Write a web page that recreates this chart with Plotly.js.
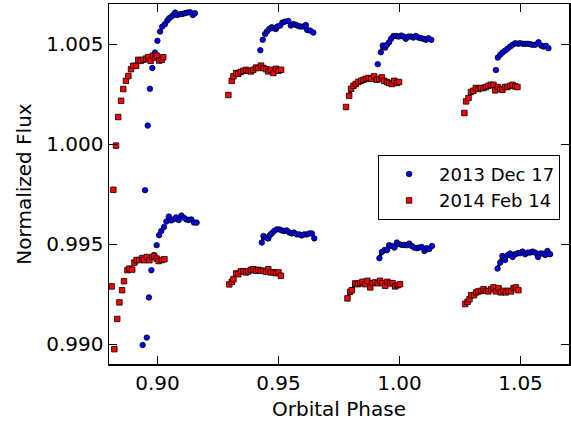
<!DOCTYPE html>
<html>
<head>
<meta charset="utf-8">
<script src="https://cdn.plot.ly/plotly-3.0.1.min.js"></script>
<style>html,body{margin:0;padding:0;background:#fff;}#chart{width:571px;height:421px;}</style>
</head>
<body>
<div id="chart"></div>
<script>
// ---- 2013 Dec 17 (blue), upper set, four visits ----
const decTopPhase = [
  [0.8949,0.8960,0.8969,0.8979,0.8990,0.9000,0.9011,0.9020,0.9031,0.9041,0.9049,0.9059,0.9066,0.9073,0.9082,0.9093,0.9103,0.9114,0.9124,0.9135,0.9146,0.9155],
  [0.9425,0.9435,0.9445,0.9452,0.9462,0.9472,0.9479,0.9489,0.9495,0.9507,0.9516,0.9527,0.9541,0.9551,0.9562,0.9573,0.9582,0.9592,0.9603,0.9613,0.9619,0.9631,0.9644],
  [0.9910,0.9923,0.9931,0.9941,0.9948,0.9957,0.9965,0.9975,0.9986,0.9996,1.0007,1.0016,1.0026,1.0037,1.0048,1.0057,1.0067,1.0078,1.0089,1.0099,1.0109,1.0119,1.0131],
  [1.0398,1.0406,1.0416,1.0425,1.0436,1.0446,1.0457,1.0467,1.0478,1.0489,1.0498,1.0510,1.0519,1.0530,1.0540,1.0549,1.0560,1.0574,1.0585,1.0595,1.0605,1.0615]
];
const decTopFlux = [
  [0.99769,1.00092,1.00276,1.00380,1.00457,1.00516,1.00562,1.00587,1.00599,1.00617,1.00629,1.00637,1.00645,1.00657,1.00645,1.00649,1.00650,1.00654,1.00657,1.00659,1.00645,1.00654],
  [1.00469,1.00521,1.00550,1.00562,1.00575,1.00584,1.00579,1.00575,1.00587,1.00592,1.00607,1.00612,1.00615,1.00592,1.00600,1.00595,1.00590,1.00587,1.00587,1.00595,1.00570,1.00567,1.00557],
  [1.00399,1.00459,1.00492,1.00482,1.00496,1.00509,1.00526,1.00540,1.00540,1.00537,1.00542,1.00537,1.00526,1.00537,1.00537,1.00532,1.00540,1.00532,1.00529,1.00526,1.00521,1.00529,1.00521],
  [1.00370,1.00432,1.00446,1.00457,1.00467,1.00476,1.00487,1.00496,1.00504,1.00501,1.00504,1.00501,1.00501,1.00501,1.00499,1.00496,1.00496,1.00509,1.00492,1.00487,1.00491,1.00479]
];
// ---- 2013 Dec 17 (blue), lower set ----
const decBotPhase = [
  [0.8939,0.8956,0.8965,0.8975,0.8986,0.8997,0.9007,0.9016,0.9027,0.9037,0.9047,0.9056,0.9066,0.9077,0.9088,0.9099,0.9109,0.9119,0.9129,0.9140,0.9151,0.9162],
  [0.9431,0.9438,0.9448,0.9458,0.9465,0.9472,0.9482,0.9493,0.9504,0.9514,0.9523,0.9534,0.9545,0.9555,0.9564,0.9576,0.9586,0.9596,0.9606,0.9617,0.9628,0.9638,0.9648],
  [0.9917,0.9927,0.9938,0.9948,0.9957,0.9968,0.9979,0.9989,0.9998,1.0010,1.0019,1.0030,1.0040,1.0051,1.0060,1.0072,1.0081,1.0092,1.0103,1.0113,1.0122,1.0134],
  [1.0405,1.0416,1.0425,1.0436,1.0446,1.0457,1.0467,1.0478,1.0489,1.0498,1.0508,1.0519,1.0530,1.0540,1.0549,1.0560,1.0572,1.0581,1.0591,1.0602,1.0611,1.0622]
];
const decBotFlux = [
  [0.98995,0.99032,0.99233,0.99369,0.99444,0.99494,0.99544,0.99565,0.99585,0.99612,0.99637,0.99618,0.99623,0.99633,0.99620,0.99642,0.99632,0.99623,0.99620,0.99623,0.99607,0.99607],
  [0.99507,0.99540,0.99532,0.99527,0.99545,0.99553,0.99565,0.99573,0.99573,0.99568,0.99565,0.99568,0.99557,0.99553,0.99557,0.99548,0.99548,0.99543,0.99548,0.99548,0.99553,0.99553,0.99528],
  [0.99429,0.99460,0.99470,0.99469,0.99494,0.99490,0.99482,0.99507,0.99499,0.99495,0.99495,0.99494,0.99502,0.99490,0.99482,0.99479,0.99482,0.99485,0.99465,0.99479,0.99474,0.99490],
  [0.99377,0.99407,0.99440,0.99420,0.99444,0.99452,0.99435,0.99449,0.99454,0.99454,0.99462,0.99449,0.99457,0.99457,0.99462,0.99457,0.99435,0.99452,0.99452,0.99445,0.99465,0.99449]
];
// ---- 2014 Feb 14 (red), upper set ----
const febTopPhase = [
  [0.8818,0.8829,0.8838,0.8850,0.8859,0.8870,0.8880,0.8891,0.8900,0.8912,0.8921,0.8931,0.8942,0.8953,0.8962,0.8972,0.8981,0.8990,0.8997,0.9007,0.9018,0.9024],
  [0.9293,0.9307,0.9314,0.9325,0.9334,0.9344,0.9355,0.9366,0.9376,0.9386,0.9396,0.9407,0.9417,0.9428,0.9438,0.9449,0.9458,0.9468,0.9479,0.9490,0.9500,0.9511],
  [0.9779,0.9792,0.9800,0.9810,0.9819,0.9830,0.9841,0.9851,0.9861,0.9872,0.9883,0.9895,0.9906,0.9916,0.9927,0.9936,0.9948,0.9957,0.9968,0.9978,0.9989,0.9998],
  [1.0268,1.0275,1.0285,1.0295,1.0305,1.0315,1.0326,1.0336,1.0347,1.0357,1.0367,1.0377,1.0388,1.0395,1.0406,1.0416,1.0425,1.0436,1.0446,1.0457,1.0467,1.0478,1.0487]
];
const febTopFlux = [
  [0.99771,0.99992,1.00135,1.00216,1.00275,1.00316,1.00340,1.00374,1.00391,1.00391,1.00421,1.00416,1.00421,1.00427,1.00434,1.00416,1.00441,1.00432,1.00441,1.00417,1.00421,1.00434],
  [1.00245,1.00316,1.00338,1.00355,1.00351,1.00360,1.00366,1.00371,1.00366,1.00363,1.00371,1.00382,1.00380,1.00392,1.00380,1.00374,1.00363,1.00371,1.00355,1.00376,1.00366,1.00371],
  [1.00185,1.00241,1.00276,1.00291,1.00300,1.00310,1.00316,1.00321,1.00326,1.00330,1.00326,1.00338,1.00321,1.00326,1.00333,1.00316,1.00310,1.00305,1.00300,1.00316,1.00305,1.00310],
  [1.00155,1.00213,1.00230,1.00260,1.00266,1.00280,1.00275,1.00280,1.00280,1.00285,1.00291,1.00296,1.00296,1.00268,1.00285,1.00275,1.00271,1.00285,1.00285,1.00291,1.00296,1.00288,1.00285]
];
// ---- 2014 Feb 14 (red), lower set ----
const febBotPhase = [
  [0.8811,0.8822,0.8834,0.8843,0.8854,0.8862,0.8876,0.8884,0.8896,0.8905,0.8914,0.8925,0.8938,0.8946,0.8956,0.8967,0.8979,0.8987,0.8997,0.9005,0.9018,0.9029],
  [0.9297,0.9307,0.9314,0.9325,0.9334,0.9344,0.9355,0.9366,0.9376,0.9386,0.9396,0.9407,0.9417,0.9427,0.9438,0.9449,0.9458,0.9468,0.9479,0.9490,0.9500,0.9510],
  [0.9785,0.9796,0.9803,0.9817,0.9828,0.9837,0.9847,0.9858,0.9867,0.9879,0.9888,0.9899,0.9910,0.9920,0.9929,0.9941,0.9950,0.9961,0.9971,0.9982,0.9993,1.0002],
  [1.0271,1.0281,1.0289,1.0296,1.0308,1.0317,1.0326,1.0337,1.0347,1.0357,1.0367,1.0379,1.0388,1.0398,1.0409,1.0419,1.0429,1.0439,1.0450,1.0461,1.0471,1.0481,1.0491]
];
const febBotFlux = [
  [0.99288,0.98974,0.99125,0.99208,0.99269,0.99314,0.99369,0.99377,0.99372,0.99407,0.99420,0.99420,0.99430,0.99419,0.99435,0.99419,0.99435,0.99440,0.99427,0.99415,0.99420,0.99424],
  [0.99298,0.99311,0.99324,0.99353,0.99349,0.99363,0.99364,0.99358,0.99363,0.99371,0.99374,0.99366,0.99371,0.99366,0.99366,0.99361,0.99374,0.99358,0.99358,0.99354,0.99358,0.99341],
  [0.99228,0.99261,0.99269,0.99303,0.99299,0.99304,0.99311,0.99299,0.99316,0.99283,0.99304,0.99308,0.99304,0.99316,0.99304,0.99291,0.99311,0.99303,0.99304,0.99288,0.99294,0.99299],
  [0.99200,0.99211,0.99224,0.99244,0.99244,0.99258,0.99263,0.99266,0.99274,0.99266,0.99263,0.99274,0.99283,0.99263,0.99279,0.99258,0.99266,0.99258,0.99266,0.99263,0.99279,0.99283,0.99269]
];
// leading isolated points per visit that are not part of the dense black band (null = no band)
const decTopBandStart = [null, 2, 1, 1];
const decBotBandStart = [null, 0, 0, 0];
const febTopBandStart = [null, 1, 1, 1];
const febBotBandStart = [null, 0, 0, 0];

const seriesNames = ['2013 Dec 17', '2014 Feb 14'];
const xTicks = [0.90, 0.95, 1.00, 1.05];
const yTicks = [0.990, 0.995, 1.000, 1.005];

const traces = [];
function addBand(phases, fluxes, starts) {
  phases.forEach((ph, i) => {
    if (starts[i] === null) return;
    traces.push({
      x: ph.slice(starts[i]), y: fluxes[i].slice(starts[i]),
      mode: 'lines', line: {color: '#000000', width: 3.2},
      showlegend: false, hoverinfo: 'skip'
    });
  });
}
addBand(decTopPhase, decTopFlux, decTopBandStart);
addBand(decBotPhase, decBotFlux, decBotBandStart);
addBand(febTopPhase, febTopFlux, febTopBandStart);
addBand(febBotPhase, febBotFlux, febBotBandStart);

const flat = a => [].concat(...a);
traces.push({
  x: flat(decTopPhase).concat(flat(decBotPhase)),
  y: flat(decTopFlux).concat(flat(decBotFlux)),
  mode: 'markers', name: seriesNames[0],
  marker: {symbol: 'circle', size: 5.5, color: '#0000ff', line: {color: '#000000', width: 0.8}}
});
traces.push({
  x: flat(febTopPhase).concat(flat(febBotPhase)),
  y: flat(febTopFlux).concat(flat(febBotFlux)),
  mode: 'markers', name: seriesNames[1],
  marker: {symbol: 'square', size: 5.5, color: '#ff0000', line: {color: '#000000', width: 0.8}}
});

const font = {family: 'DejaVu Sans, sans-serif', size: 20, color: '#000000'};
const axisCommon = {
  showline: true, linecolor: '#000000', linewidth: 1.5, mirror: 'ticks',
  ticks: 'inside', ticklen: 8, tickwidth: 1, tickcolor: '#000000',
  showgrid: false, zeroline: false, tickfont: font
};
const layout = {
  width: 571, height: 421,
  margin: {l: 109, r: 2, t: 4, b: 57},
  paper_bgcolor: '#ffffff', plot_bgcolor: '#ffffff',
  font: font,
  showlegend: true,
  xaxis: Object.assign({}, axisCommon, {
    range: [0.88, 1.07], tickvals: xTicks, tickformat: '.2f',
    title: {text: 'Orbital Phase', font: font, standoff: 10}
  }),
  yaxis: Object.assign({}, axisCommon, {
    range: [0.989, 1.007], tickvals: yTicks, tickformat: '.3f',
    title: {text: 'Normalized Flux', font: font, standoff: 9}
  }),
  legend: {
    x: 0.585, y: 0.581, xanchor: 'left', yanchor: 'top',
    bordercolor: '#000000', borderwidth: 1, bgcolor: '#ffffff',
    font: {family: 'DejaVu Sans, sans-serif', size: 18, color: '#000000'},
    itemwidth: 50, tracegroupgap: 0
  }
};
Plotly.newPlot('chart', traces, layout, {staticPlot: true, displayModeBar: false});
</script>
</body>
</html>
